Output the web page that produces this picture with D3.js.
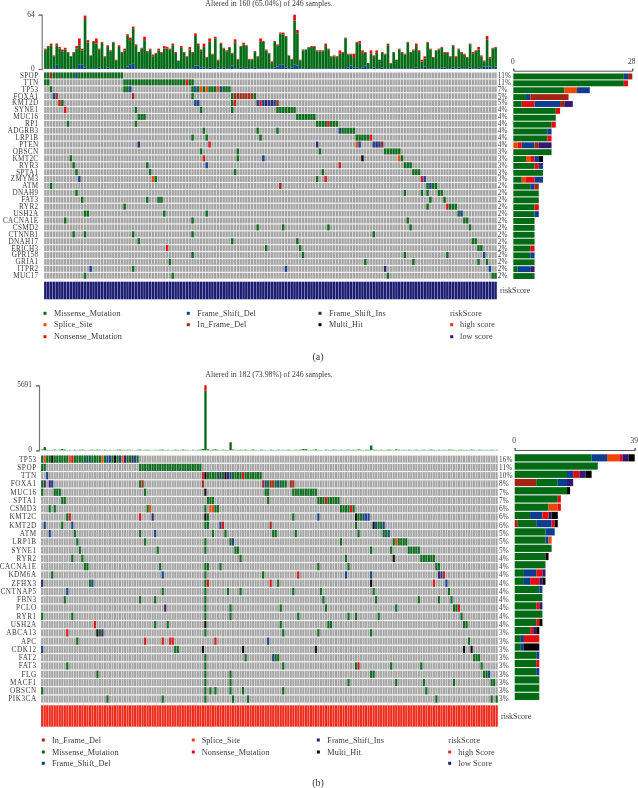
<!DOCTYPE html>
<html><head><meta charset="utf-8"><script src="https://cdn.jsdelivr.net/npm/d3@7"></script>
<style>html,body{margin:0;background:#fff}svg{display:block;filter:blur(.3px)}text{font-family:"Liberation Serif",serif;fill:#3a3a3a}</style>
</head><body><svg id="c" width="638" height="788"></svg>
<script>
const genesA=["SPOP","TTN","TP53","FOXA1","KMT2D","SYNE1","MUC16","RP1","ADGRB3","LRP1B","PTEN","OBSCN","KMT2C","RYR3","SPTA1","ZMYM3","ATM","DNAH9","FAT3","RYR2","USH2A","CACNA1E","CSMD2","CTNNB1","DNAH17","ERICH3","GPR158","GRIA1","ITPR2","MUC17"];
const pctA=["11%","11%","7%","5%","5%","4%","4%","4%","4%","4%","4%","3%","3%","3%","3%","3%","2%","2%","2%","2%","2%","2%","2%","2%","2%","2%","2%","2%","2%","2%"];
const missenseA=[[0,1,3,4,5,6,7,8,9,10,12,13,14,15,16,17,18,19,20,21,22,23,24,25,26,27],[0,1,28,29,30,31,32,33,34,35,36,37,38,39,40,41,42,43,44,45,46,47,48,49,51,52],[2,28,29,52,54,56,58,59,60,63,64,65],[52,66,74],[6,66],[32,55,66,82,83,84,85,86,87,88],[33,34,35,89,90,91,92,93,94,95],[8,32,96,97,98,99,101,102,103],[56,75,82,105,106,107,108,109],[52,57,76,110,111,112,113,114],[],[55,68,97,120,121,122,123,124,125],[9,68,126],[10,36,127,128,129],[11,37,67,98,130,131,132],[39,96],[2,135,137,138],[11,127,133,135,139,140],[13,36,40,41,136,141],[28,135,143,144,145],[14,15,42,57,146],[7,52,128,148,149],[75,84,100,129,150],[10,14,31,52,116],[33,66,89,151,152],[78,90,153,154],[52,91,127,142],[44,113,130,153,156],[31],[14,45,121,158,159]];
const spliceA=[[],[],[55,57,61],[],[],[],[],[],[],[],[110],[],[125],[],[],[38],[],[],[],[],[],[],[],[],[],[],[],[],[],[]];
const nonsenseA=[[],[50],[],[],[5,67,76],[7],[],[100],[],[115],[58],[],[56],[104],[],[99,133],[],[],[],[142],[],[],[],[],[],[43],[],[],[],[]];
const frameDelA=[[11],[],[30,53,62],[3],[53,54,75,77,79,81],[],[],[],[104],[],[111,116,118],[],[77],[57],[],[12,134],[136],[],[],[],[147],[],[],[],[],[],[155],[],[16,85,157],[]];
const inFrameA=[[2],[],[],[4,31,67,68,69,70,71,72,73],[82],[],[],[],[],[],[119],[],[],[],[],[],[83],[],[],[],[],[],[],[],[],[],[],[],[],[]];
const frameInsA=[[],[],[],[],[78,80],[],[],[],[],[],[33,96,117],[],[],[],[],[],[],[],[],[],[],[],[],[],[],[],[],[],[120],[]];
const multiHitA=[[],[],[],[],[],[],[],[],[],[],[],[],[112],[],[],[],[],[],[],[],[],[],[],[],[],[],[],[],[],[]];
const totalA=[24,27,30,16,30,26,23,25,20,15,20,27,36,24,63,34,16,33,36,24,32,15,28,22,32,11,28,20,24,41,37,50,29,20,25,38,21,24,17,19,24,20,27,26,24,30,20,10,27,20,15,26,20,42,30,23,30,14,36,18,38,11,31,25,22,26,19,35,12,27,31,28,12,12,21,15,36,33,23,19,9,33,29,43,43,39,16,12,64,46,11,23,23,26,27,27,22,22,22,30,24,15,16,15,22,20,37,18,18,18,32,33,22,20,7,22,16,22,11,20,18,30,7,20,11,24,20,18,32,20,23,30,22,11,15,32,24,14,22,24,26,20,20,15,28,15,24,20,18,14,30,20,22,26,16,10,39,14,25,26];
const topRedA=[1,1,2,1,2,2,2,2,1,0,1,3,8,2,4,3,0,1,6,1,1,1,2,1,1,1,2,1,2,2,3,2,1,0,1,4,1,1,2,1,2,1,3,2,1,2,1,0,2,1,1,3,1,3,2,2,4,1,4,1,2,1,1,1,1,1,1,4,1,1,2,1,1,1,1,1,4,1,1,1,2,1,1,1,2,1,0,1,7,4,1,1,0,1,1,1,1,1,1,3,1,1,1,1,4,1,1,1,1,5,1,3,3,1,0,4,2,3,0,1,1,2,1,1,0,1,1,1,1,1,1,3,2,2,3,1,1,1,0,1,1,1,1,1,1,2,1,1,1,1,1,2,1,3,1,1,4,2,1,1];
const lowBlueA=[1,0,1,1,5,1,1,0,0,0,1,1,5,5,2,0,1,1,1,2,1,0,2,1,1,0,0,1,1,3,5,6,1,1,1,1,1,0,0,1,0,1,0,0,1,1,0,1,1,0,1,1,1,4,4,2,2,1,2,1,1,2,1,2,1,1,4,1,1,2,1,2,1,1,2,1,1,1,1,1,1,2,3,5,5,2,1,2,5,4,1,1,1,0,1,1,1,1,1,1,1,1,1,1,1,1,1,2,4,2,2,1,2,4,1,1,2,1,1,2,1,1,1,1,1,1,1,1,1,1,1,2,1,1,3,1,1,1,1,1,2,2,1,1,2,1,2,1,1,1,2,1,1,2,1,3,3,3,1,3];
const riskA="low";

const genesB=["TP53","SPOP","TTN","FOXA1","MUC16","SPTA1","CSMD3","KMT2C","KMT2D","ATM","LRP1B","SYNE1","RYR2","CACNA1E","KDM6A","ZFHX3","CNTNAP5","FBN3","PCLO","RYR1","USH2A","ABCA13","APC","CDK12","FAT2","FAT3","FLG","MACF1","OBSCN","PIK3CA"];
const pctB=["16%","11%","10%","8%","7%","7%","6%","6%","6%","5%","5%","5%","4%","4%","4%","4%","4%","4%","4%","4%","4%","3%","3%","3%","3%","3%","3%","3%","3%","3%"];
const missenseB=[[0,2,3,5,6,7,8,9,10,13,14,15,16,17,19,20,21,22,23,25,28,30,34,35,38],[0,1,39,40,41,42,43,44,45,46,47,48,49,50,51,52,53,54,55,56,57,58,59,60,61,62,63],[66,67,68,69,70,72,76,77,78,79,81,82,83,84,85,86,87],[0,39,90,93,95,96,97],[0,5,6,7,41,89,90,100,101,102,103,104,105,106,107,108,109],[8,9,66,67,68,90,110,111,112,114,115,116,117,118],[3,5,42,65,69,70,119,120,121,122,124],[10,66,100,126,127],[8,65,66,125,134,135],[13,39,68,73,92,93,101,126,136,137],[14,41,65,75,119,140,142,143,144,145],[15,46,65,77,78,131,139,146,147,148,149,150],[12,16,79,121,151,152,153,154,155,156],[17,18,47,65,66,71,110,122,157,158],[4,65,88],[19,65,94],[48,65,74,79,100,111,132,162],[9,39,45,65,112,133,150,158,163],[65,75,95,113,141,164,165],[0,12,65,75,102,122,125,134,167],[45,50,95,114,115,168,169],[23,65,96,110,131],[14,170],[53,54],[65,81,93,94,172,173,174],[10,65,96,125,139,151,175],[22,65,75,131,132,176,177],[65,75,122,141,152,164,179,180],[0,65,67,69,75,80,96,153],[26,48,65,76,82,157,179,181]];
const spliceB=[[1,11,24,32],[],[],[],[],[],[43,67,68],[],[],[],[141],[],[],[],[],[],[],[],[],[],[],[],[],[],[],[],[],[],[],[]];
const nonsenseB=[[12],[],[64,80],[],[],[113],[123],[11,39],[72],[],[],[],[],[],[102,160],[66,91,156],[],[],[166],[],[21],[10],[41,48,51,52,69],[],[],[126],[],[],[],[]];
const frameDelB=[[18,26,27,31,37],[],[2,75],[4,89,94],[],[],[],[110,128,129,130],[1,12,71,133,136],[3,45,138],[76],[],[],[],[48,121,131,159],[20,161],[10],[],[],[],[],[],[90],[0],[92],[],[178],[],[],[]];
const inFrameB=[[],[],[],[40,64,88,91,92,99,100],[],[],[],[],[91],[],[],[],[],[],[],[],[],[],[],[],[],[],[],[],[],[],[],[],[],[]];
const frameInsB=[[33,36],[],[71,74],[1,3],[],[],[],[44],[],[],[],[],[],[],[158],[0],[],[],[49],[],[],[24],[],[],[],[],[],[],[],[]];
const multiHitB=[[4,29],[],[65,73],[],[65],[],[],[65,125],[132],[],[],[],[140],[],[],[131],[],[],[],[],[65],[22],[],[64,80,109,168,171],[],[],[],[],[],[]];
const totalB=[70,280,50,30,40,60,30,50,110,60,30,40,20,50,30,40,60,30,20,40,50,30,60,40,30,50,30,40,20,30,50,60,40,30,50,40,30,20,50,60,30,40,50,30,20,40,30,50,60,30,40,20,30,50,40,30,60,40,30,20,50,30,40,60,120,5691,90,40,50,90,40,30,50,40,30,720,60,40,30,50,40,60,30,40,70,40,30,50,40,30,20,50,40,30,60,30,40,30,50,40,30,50,40,60,110,100,40,30,50,80,40,30,20,50,40,30,60,40,30,50,30,40,60,30,50,40,80,40,30,50,40,430,60,40,30,50,30,40,60,40,30,80,50,30,40,30,50,40,30,60,30,40,50,30,40,60,40,30,50,30,40,30,60,50,40,30,40,50,30,40,30,60,40,30,50,40,30,40,30,50,30,40];
const redPeaksB=[[65,470],[75,60],[131,40]];
const riskB="high";
const topTicksA=[0,64], topTicksB=[0,5691], sideTicksA=[0,28], sideTicksB=[0,39];

const typeColor={M:"#006a14",S:"#f04500",N:"#e60b0b",D:"#0b3d91",I:"#a32412",P:"#36176e",H:"#000000"};
const riskColor={low:"#1c1c72",high:"#ee2b1c"};
const svg=d3.select("#c");

function panel(o){
  const n=o.nCols,g=svg.append("g");
  const x=d3.scaleBand().domain(d3.range(n)).range([o.x0,o.x1]);
  const y=d3.scaleBand().domain(o.genes).range([o.hTop,o.hBot]);
  const cw=x.bandwidth(),rh=y.bandwidth();
  const cellsH=rh-o.rowGap, off=o.rowGap/2;
  g.append("g").selectAll("g").data(o.genes).join("g").attr("transform",d=>`translate(0,${y(d)+off})`)
   .selectAll("rect").data(d3.range(n)).join("rect")
   .attr("x",c=>x(c)+.15).attr("width",cw-.45).attr("height",cellsH).attr("fill","#a5a5a5");
  const rows=[];
  o.types.forEach(([k,arr])=>arr.forEach((cols,i)=>cols.forEach(c=>rows.push({k,i,c}))));
  g.append("g").selectAll("rect").data(rows).join("rect")
   .attr("x",d=>x(d.c)+.15).attr("y",d=>y(o.genes[d.i])+off).attr("width",cw-.45).attr("height",cellsH)
   .attr("fill",d=>typeColor[d.k]).attr("fill-opacity",.92);
  g.append("g").selectAll("text").data(o.genes).join("text").attr("x",o.labelX).attr("y",d=>y(d)+rh/2+2.4)
   .attr("text-anchor","end").attr("font-size",o.labelSize).attr("letter-spacing",o.labelTrack).text(d=>d);
  g.append("g").selectAll("text").data(o.pct).join("text").attr("x",o.pctX).attr("y",(d,i)=>y(o.genes[i])+rh/2+2.4)
   .attr("font-size",o.labelSize).attr("letter-spacing",.15).text(d=>d);
  g.append("g").selectAll("rect").data(d3.range(n)).join("rect")
   .attr("x",c=>x(c)+.1).attr("y",o.rTop).attr("width",cw-.3).attr("height",o.rBot-o.rTop).attr("fill",riskColor[o.risk]);
  g.append("text").attr("x",o.x1+3).attr("y",(o.rTop+o.rBot)/2+2.6).attr("font-size",8).text("riskScore");
  const yT=d3.scaleLinear().domain([0,o.topMax]).range([o.tBase,o.tTop]);
  const top=g.append("g");
  o.total.forEach((v,i)=>{
    const red=o.red(i),low=o.low?o.low[i]:0,gr=v-red-low;
    [[0,low,typeColor.D],[low,low+gr,typeColor.M],[low+gr,v,typeColor.N]].forEach(([a,b,f])=>{
      if(b>a) top.append("rect").attr("x",x(i)+.1).attr("width",cw-.2).attr("y",yT(b)).attr("height",yT(a)-yT(b)).attr("fill",f);
    });
  });
  const ax=g.append("g").attr("transform",`translate(${o.x0-o.axGap},0)`).call(d3.axisLeft(yT).tickValues(o.topTicks).tickSize(3).tickPadding(4).tickFormat(d3.format("d")));
  ax.selectAll("path,line").attr("stroke","#777").attr("stroke-width",1.2);
  ax.selectAll("text").attr("font-size",7.4).attr("y",-1).style("font-family",'"Liberation Serif",serif').style("fill","#3a3a3a");
  const xS=d3.scaleLinear().domain([0,o.sideMax]).range([o.s0,o.s1]);
  o.genes.forEach((gn,i)=>{
    let acc=0;
    const dy=o.sideDy[0]+(o.sideDy[1]-o.sideDy[0])*i/(o.genes.length-1);
    o.sideOrder.forEach(k=>{
      const cnt=o.types.find(t=>t[0]===k)[1][i].length;
      if(cnt){ g.append("rect").attr("x",xS(acc)).attr("y",y(gn)+off+dy).attr("width",xS(acc+cnt)-xS(acc)).attr("height",cellsH).attr("fill",typeColor[k]); acc+=cnt; }
    });
  });
  const as=g.append("g").attr("transform",`translate(0,${o.sAxis})`).call(d3.axisTop(xS).tickValues(o.sideTicks).tickSize(2).tickPadding(5).tickFormat(d3.format("d")));
  as.selectAll("path,line").attr("stroke","#555").attr("stroke-width",1);
  as.selectAll("text").attr("font-size",7.4).attr("x",-1).style("font-family",'"Liberation Serif",serif').style("fill","#3a3a3a");
  g.append("text").attr("x",269).attr("y",o.titleY).attr("text-anchor","middle").attr("font-size",7.8).text(o.title);
  o.legend.forEach(l=>{
    if(l.c) g.append("rect").attr("x",l.x-1.5).attr("y",l.y-1.5).attr("width",3).attr("height",3).attr("fill",l.c);
    g.append("text").attr("x",l.tx).attr("y",l.y+2.6).attr("font-size",8.2).attr("letter-spacing",.12).text(l.t);
  });
  g.append("text").attr("x",318).attr("y",o.capY).attr("text-anchor","middle").attr("font-size",10).text(o.cap);
}

panel({nCols:160,x0:44,x1:497,genes:genesA,pct:pctA,hTop:72,hBot:279.2,rowGap:1,labelX:38.5,pctX:497.8,labelSize:7.2,labelTrack:.35,
  types:[["M",missenseA],["S",spliceA],["N",nonsenseA],["D",frameDelA],["I",inFrameA],["P",frameInsA],["H",multiHitA]],
  sideOrder:["M","S","N","D","I","P","H"],sideDy:[1,.3],risk:riskA,rTop:281.7,rBot:299.3,
  total:totalA,red:i=>topRedA[i],low:lowBlueA,topMax:64,tTop:14.7,tBase:69,axGap:2.3,topTicks:topTicksA,
  sideMax:28,s0:513.3,s1:632.3,sAxis:70.7,sideTicks:sideTicksA,title:"Altered in 160 (65.04%) of 246 samples.",titleY:5.5,
  legend:[
   {x:45,y:313.3,tx:54,t:"Missense_Mutation",c:typeColor.M},{x:45,y:324.7,tx:54,t:"Splice_Site",c:typeColor.S},{x:45,y:336.7,tx:54,t:"Nonsense_Mutation",c:typeColor.N},
   {x:188.3,y:313.3,tx:197.3,t:"Frame_Shift_Del",c:typeColor.D},{x:188.3,y:324.7,tx:197.3,t:"In_Frame_Del",c:typeColor.I},
   {x:320,y:313.3,tx:329,t:"Frame_Shift_Ins",c:typeColor.P},{x:320,y:324.7,tx:329,t:"Multi_Hit",c:typeColor.H},
   {x:0,y:313.3,tx:450,t:"riskScore"},{x:451.7,y:324.7,tx:460,t:"high score",c:riskColor.high},{x:451.7,y:336.7,tx:460,t:"low score",c:riskColor.low}],
  cap:"(a)",capY:360});

panel({nCols:182,x0:41,x1:498,genes:genesB,pct:pctB,hTop:455,hBot:703.2,rowGap:1.1,labelX:36.7,pctX:499,labelSize:7.2,labelTrack:.55,
  types:[["M",missenseB],["S",spliceB],["N",nonsenseB],["D",frameDelB],["I",inFrameB],["P",frameInsB],["H",multiHitB]],
  sideOrder:["I","M","D","S","N","P","H"],sideDy:[-1.3,-2.7],risk:riskB,rTop:705.3,rBot:726.7,
  total:totalB,red:i=>{const p=redPeaksB.find(q=>q[0]===i);return p?p[1]:0;},low:null,topMax:5691,tTop:385.3,tBase:450.3,axGap:2,topTicks:topTicksB,
  sideMax:39,s0:514.7,s1:634.7,sAxis:450,sideTicks:sideTicksB,title:"Altered in 182 (73.98%) of 246 samples.",titleY:377,
  legend:[
   {x:43.3,y:740,tx:52,t:"In_Frame_Del",c:typeColor.I},{x:43.3,y:752,tx:52,t:"Missense_Mutation",c:typeColor.M},{x:43.3,y:763.3,tx:52,t:"Frame_Shift_Del",c:typeColor.D},
   {x:193.3,y:740,tx:201.7,t:"Splice_Site",c:typeColor.S},{x:193.3,y:752,tx:201.7,t:"Nonsense_Mutation",c:typeColor.N},
   {x:318.3,y:740,tx:327.3,t:"Frame_Shift_Ins",c:typeColor.P},{x:318.3,y:752,tx:327.3,t:"Multi_Hit",c:typeColor.H},
   {x:0,y:740,tx:448.3,t:"riskScore"},{x:449.7,y:752,tx:458.3,t:"high Score",c:riskColor.high},{x:449.7,y:763.3,tx:458.3,t:"low Score",c:riskColor.low}],
  cap:"(b)",capY:786});
</script></body></html>
